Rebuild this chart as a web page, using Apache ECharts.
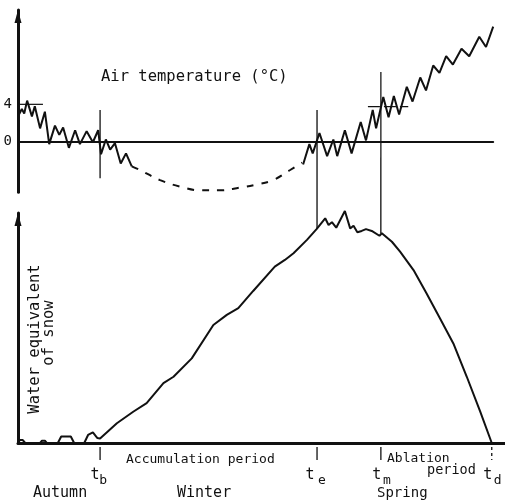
<!DOCTYPE html>
<html><head><meta charset="utf-8">
<script src="https://cdn.jsdelivr.net/npm/echarts@6/dist/echarts.min.js"></script>
<style>html,body{margin:0;padding:0;background:#fff}#c{width:505px;height:502px}</style>
</head><body><div id="c"></div>
<script>
// ---- data (time in arbitrary units, temperature in °C, snow water equivalent in relative units) ----
const autumnTemp = [[0.2,2.9],[0.8,3.5],[1.3,3.0],[1.9,4.4],[2.9,2.7],[3.5,3.8],[4.6,1.4],[5.6,3.2],[6.5,-0.3],[7.7,1.7],[8.6,0.7],[9.4,1.5],[10.6,-0.7],[11.9,1.2],[12.9,-0.3],[14.3,1.1],[15.6,-0.1],[16.7,1.2],[17.3,-1.4],[18.3,0.2],[19.2,-0.9],[20.2,-0.2],[21.4,-2.4],[22.5,-1.3],[23.7,-2.7]];
const winterTemp = [[23.7,-2.7],[25.4,-3.1],[29.6,-4.2],[33.8,-4.9],[37.9,-5.3],[42.1,-5.3],[46.3,-5.0],[49.4,-4.7],[53.1,-4.2],[56.7,-3.1],[59.2,-2.3]];
const springTemp = [[59.4,-2.5],[60.7,-0.3],[61.4,-1.3],[62.8,0.9],[64.4,-1.6],[65.7,0.2],[66.5,-1.6],[68.1,1.2],[69.5,-1.3],[71.4,2.1],[72.5,0.1],[73.9,3.4],[74.6,1.4],[76.1,4.8],[77.2,2.6],[78.3,4.9],[79.4,2.9],[81.0,5.9],[82.2,4.3],[83.8,6.9],[85.0,5.5],[86.5,8.2],[87.8,7.4],[89.2,9.2],[90.6,8.3],[92.4,10.0],[94.0,9.2],[96.1,11.3],[97.5,10.2],[99.0,12.4]];
const snowWater = [[0,0.3],[0.4,1.3],[1.0,1.3],[1.5,0],[4.6,0],[5.0,1.0],[5.6,1.0],[6.0,0],[8.3,0],[9.0,2.8],[11.0,2.8],[11.7,0],[13.8,0],[14.6,3.5],[15.6,4.6],[16.5,2.2],[17.1,2.0],[20.6,8.6],[24.0,13.6],[26.8,17.3],[30.3,26.0],[32.4,28.8],[36.2,36.8],[40.7,51.3],[43.5,55.7],[45.9,58.6],[49.0,66.1],[53.5,76.7],[55.6,79.6],[57.4,82.5],[60.2,88.3],[62.2,93.0],[62.6,92.6],[64.0,97.7],[64.7,94.8],[65.4,96.0],[66.3,93.6],[68.1,100.9],[69.2,93.3],[69.9,94.5],[70.7,91.6],[71.6,92.2],[72.5,93.0],[73.7,92.2],[75.3,90.1],[75.8,91.2],[77.9,87.5],[79.6,83.2],[82.4,75.2],[85.1,65.1],[87.9,54.2],[90.7,43.3],[93.5,28.8],[96.3,13.6],[98.7,0]];
const refLineAutumn = [[0,4],[5.2,4]];
const refLineSpring = [[72.9,3.75],[81.3,3.75]];
const tempTickValues = [0, 4];
const markerSubs = ['b','e','m','d'];
const markerTimes = [17.1, 62.3, 75.6, 98.7];
const markerTopTemp = [3.4, 3.4, 7.5];
const tbLowTemp = -4.0;
const markerSnow = [null, 93.0, 91.2];
const seasonLabels = ['Autumn','Winter','Spring'];
const periodLabels = ['Accumulation period','Ablation','period'];
const tempTitle = 'Air temperature (°C)';
const snowTitle = ['Water equivalent','of snow'];

const FONT = 'DejaVu Sans Mono';
const INK = '#111';
const chart = echarts.init(document.getElementById('c'));

function lineSeries(data, xi, extra) {
  return Object.assign({
    type: 'line', xAxisIndex: xi, yAxisIndex: xi, data: data,
    symbol: 'none', showSymbol: false, silent: true, clip: false,
    lineStyle: { color: INK, width: 2 }
  }, extra || {});
}
const yLine = { show: true, onZero: false, symbol: ['none','triangle'], symbolSize: [7,13], symbolOffset: [0,-6.5], lineStyle: { color: INK, width: 3 } };

chart.setOption({
  animation: false,
  backgroundColor: '#fff',
  grid: [
    { left: 18, top: 10, width: 475.2, height: 182.2 },
    { left: 18, top: 213, width: 487, height: 230 }
  ],
  xAxis: [
    { type: 'value', gridIndex: 0, min: 0, max: 99, axisLine: { onZero: true, lineStyle: { color: INK, width: 2 } }, axisTick: { show: false }, axisLabel: { show: false }, splitLine: { show: false } },
    { type: 'value', gridIndex: 1, min: 0, max: 101.46, axisLine: { lineStyle: { color: INK, width: 3 } }, axisTick: { show: false }, axisLabel: { show: false }, splitLine: { show: false } }
  ],
  yAxis: [
    { type: 'value', gridIndex: 0, min: -5.5, max: 14.2, axisLine: yLine, axisTick: { show: false },
      axisLabel: { customValues: tempTickValues, color: INK, fontFamily: FONT, fontSize: 14, margin: 6 }, splitLine: { show: false } },
    { type: 'value', gridIndex: 1, min: 0, max: 100, axisLine: yLine, axisTick: { show: false }, axisLabel: { show: false }, splitLine: { show: false } }
  ],
  series: [
    lineSeries(autumnTemp, 0),
    lineSeries(winterTemp, 0, { smooth: 0.4, lineStyle: { color: INK, width: 2, type: [7, 8] } }),
    lineSeries(springTemp, 0),
    lineSeries(refLineAutumn, 0, { lineStyle: { color: INK, width: 1.2 } }),
    lineSeries(refLineSpring, 0, { lineStyle: { color: INK, width: 1.2, type: [12, 4] } }),
    lineSeries(snowWater, 1)
  ]
});

const p0 = (x, y) => chart.convertToPixel({ gridIndex: 0 }, [x, y]);
const p1 = (x, y) => chart.convertToPixel({ gridIndex: 1 }, [x, y]);
const g = [];
function seg(a, b, w, dash) {
  g.push({ type: 'line', silent: true, shape: { x1: a[0], y1: a[1], x2: b[0], y2: b[1] }, style: { stroke: INK, lineWidth: w || 1.3, lineDash: dash || null } });
}
function txt(s, x, y, size, extra) {
  g.push(Object.assign({ type: 'text', silent: true, x: x, y: y, style: Object.assign({ text: s, fill: INK, font: size + 'px "' + FONT + '"', textAlign: 'left', textVerticalAlign: 'middle' }, (extra && extra.style) || {}) }, extra ? { rotation: extra.rotation || 0 } : {}));
}
// vertical marker lines
seg(p0(markerTimes[0], markerTopTemp[0]), p0(markerTimes[0], tbLowTemp));
seg(p0(markerTimes[1], markerTopTemp[1]), p1(markerTimes[1], markerSnow[1]));
seg(p0(markerTimes[2], markerTopTemp[2]), p1(markerTimes[2], markerSnow[2]));
// ticks below the time axis
markerTimes.forEach((t, i) => {
  const b = p1(t, 0);
  seg([b[0], b[1] + 4], [b[0], b[1] + 17], 1.3, i === 3 ? [3, 3] : null);
});
// marker labels t_x
const tOff = [[-5, 3], [-7, 5], [-4, 6], [-4, 6]];
markerTimes.forEach((t, i) => {
  const b = p1(t, 0);
  txt('t', b[0] + tOff[i][0], b[1] + 32, 15, { style: { textAlign: 'center' } });
  txt(markerSubs[i], b[0] + tOff[i][1], b[1] + 38, 13, { style: { textAlign: 'center' } });
});
// titles and labels
txt(tempTitle, 101, 77, 15.5);
txt(snowTitle[0], 35, 339, 15.5, { rotation: Math.PI / 2, style: { textAlign: 'center' } });
txt(snowTitle[1], 49, 333, 15.5, { rotation: Math.PI / 2, style: { textAlign: 'center' } });
txt(periodLabels[0], 126, 460, 13);
txt(periodLabels[1], 387, 459, 13);
txt(periodLabels[2], 427, 470, 13.5);
txt(seasonLabels[0], 33, 493, 15);
txt(seasonLabels[1], 177, 493, 15);
txt(seasonLabels[2], 377, 493, 14);
chart.setOption({ graphic: g });
</script>
</body></html>
